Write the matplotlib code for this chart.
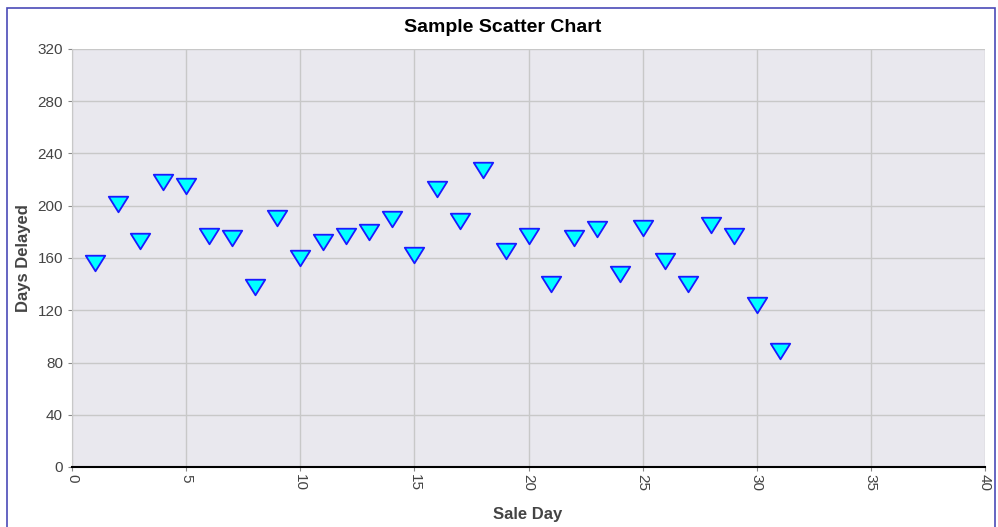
import matplotlib.pyplot as plt
from matplotlib.patches import Rectangle
from matplotlib.path import Path

# Data
sale_day = list(range(1, 32))
days_delayed = [156, 201, 173, 218, 215, 177, 175, 138, 191, 160,
                172, 177, 180, 190, 162, 213, 188, 227, 165, 177,
                140, 175, 182, 148, 183, 158, 140, 185, 177, 124, 89]

x_ticks = list(range(0, 41, 5))
y_ticks = list(range(0, 321, 40))

plt.rcParams['font.family'] = ['Liberation Sans', 'DejaVu Sans']

fig = plt.figure(figsize=(9.98, 5.27), dpi=100)
W, H = 998, 527
ax = fig.add_axes([72 / W, 1 - 467 / H, (985 - 72) / W, (467 - 49) / H])

# outer blue frame
fig.patches.append(Rectangle((7 / W, -0.05), (995 - 7) / W, 1 - 8 / H + 0.05,
                             transform=fig.transFigure, fill=False,
                             edgecolor='#4a4ab8', linewidth=1.2))

ax.set_facecolor('#e9e8ee')
tri = Path([(-1, 0.8), (1, 0.8), (0, -0.8), (-1, 0.8)],
           [Path.MOVETO, Path.LINETO, Path.LINETO, Path.CLOSEPOLY])
ax.plot(sale_day, days_delayed, linestyle='none', marker=tri, markersize=14,
        markerfacecolor='#00ffff', markeredgecolor='#1a1aff', markeredgewidth=1.3,
        zorder=3, clip_on=False)

ax.set_xlim(0, 40)
ax.set_ylim(0, 320)
ax.set_xticks(x_ticks)
ax.set_yticks(y_ticks)
ax.set_xticklabels([str(t) for t in x_ticks], rotation=-90, ha='center', va='top')
ax.tick_params(axis='both', labelsize=11, labelcolor='#444444', color='#888888', length=3)
ax.tick_params(axis='x', pad=2)
ax.grid(True, color='#c8c8c8', linewidth=1)
ax.set_axisbelow(True)

for side in ['top', 'right']:
    ax.spines[side].set_visible(False)
ax.spines['left'].set_color('#c8c8c8')
ax.spines['bottom'].set_color('black')
ax.spines['bottom'].set_linewidth(1.5)

fig.text(503 / W, 1 - 27 / H, 'Sample Scatter Chart', ha='center', va='center',
         fontsize=14, fontweight='bold', color='black')
fig.text(528 / W, 1 - 515 / H, 'Sale Day', ha='center', va='center',
         fontsize=12, fontweight='bold', color='#444444')
fig.text(24 / W, 1 - 258 / H, 'Days Delayed', ha='center', va='center', rotation=90,
         fontsize=12, fontweight='bold', color='#444444')

plt.savefig('out.png', dpi=100)
